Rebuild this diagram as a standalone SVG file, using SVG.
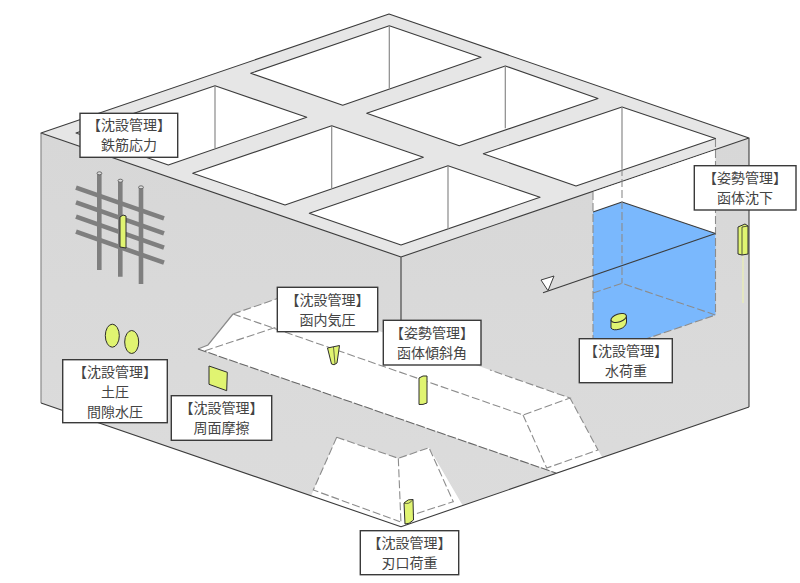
<svg xmlns="http://www.w3.org/2000/svg" width="800" height="583" viewBox="0 0 800 583">
<style>
.edge{fill:none;stroke:#3c3c3c;stroke-width:1.1;stroke-linejoin:round}
.inner{fill:none;stroke:#8a8a8a;stroke-width:1.2}
.open{fill:#fff;stroke:#3c3c3c;stroke-width:1.1;stroke-linejoin:round}
.dash{fill:none;stroke:#8c8c8c;stroke-width:1.1;stroke-dasharray:8 3}
.dashd{fill:none;stroke:#666;stroke-width:1.1;stroke-dasharray:9 2}
.bar{fill:none;stroke:#7f7f7f;stroke-width:4.6}
.s{fill:#e0f471;stroke:#2e2e2e;stroke-width:1;stroke-linejoin:round}
.box{fill:#fff;stroke:#3a3a3a;stroke-width:1.4}
text{font-family:"Noto Sans CJK JP","Noto Sans CJK SC",sans-serif;font-size:14px;fill:#444;text-anchor:middle}
</style>
<defs>
<linearGradient id="lf" x1="0" y1="0" x2="0" y2="1"><stop offset="0" stop-color="#d7d7d7"/><stop offset="1" stop-color="#dcdcdc"/></linearGradient>
</defs>
<rect width="800" height="583" fill="#fff"/>
<g id="body">
<polygon points="41,133 401,257 401,526.7 41,403" fill="url(#lf)"/>
<polygon points="401,257 749,138 749,407 401,526.7" fill="url(#lf)"/>
<polygon points="389,14 749,138 401,257 41,133" fill="#e6e6e6"/>
<polygon class="open" points="389.3,25.7 481,57.3 342.7,105.3 250.7,73.3"/>
<polygon class="open" points="505.3,66 598,98.4 459.3,145.7 366.7,113.3"/>
<polygon class="open" points="622,107 715.5,138.5 576,186 483.3,153.7"/>
<polygon class="open" points="215,85.7 306.7,117.3 168.3,165 76,133"/>
<polygon class="open" points="331.7,125.7 423.3,157.3 285,205 192.7,173.3"/>
<polygon class="open" points="448,165.7 540,197.3 401,245 309.3,213.3"/>
<path class="inner" d="M389.3 25.7V88.7M505.3 66V128.3M622 107V168M215 85.7V148.3M331.7 125.7V189M448 165.7V229M41 133V403"/>
<path class="edge" d="M389 14L749 138L401 257L41 133ZM401 257V322M749 138V407"/>
</g>
<g id="tank">
<polygon points="593,192 715.5,150 715.5,240 622,202 593,212" fill="#fff"/>
<polygon points="593,212 622,202 715.5,233.5 715.5,315 593,357" fill="#7ab8fd"/>
<path class="edge" d="M622 202L593 212M622 202L715.5 233.5"/>
<path class="dash" d="M593 192V340M622 168V283.3M715.5 139V315M593 293L622 283.3L715.5 315L640 341"/>
<path class="edge" d="M543 292.7L715.5 233.5"/>
<polygon points="541,280 554,276 548,290.7" fill="#fff" stroke="#3c3c3c" stroke-width="1"/>
</g>
<g id="cutouts">
<polygon points="198,349 208,345 233,314 282,297 570,398 602,457 557,473" fill="#fff"/>
<polygon points="336.7,437.3 398.3,458.3 429,447.7 463,506 401,526.7 311,496" fill="#fff"/>
<path class="edge" d="M41 403L401 526.7L749 407"/>
<path class="inner" d="M198 349L208 345L233 314"/>
<path class="dash" d="M233 314L282 297M233 314L523 415L570 398L490 370M523 415L546.7 468L598 450L570 398M205 350.7L280 326M336.7 437.3L313.3 490L400 521.7M336.7 437.3L398.3 458.3L429 447.7L453.3 501.7L412 515M398.3 458.3L401 524"/>
<path class="dashd" d="M198 349L556 473"/>
</g>
<g id="rebar">
<path class="bar" d="M76 187.7L164 218.3M76 202.3L164 233.3M76 216.7L164 247.7M76 231.7L164 262.7"/>
<path class="bar" d="M99.3 173.3V270M120.3 180.7V276.7M141 187.3V284"/>
<path d="M97 173.3a2.4 1.5 0 0 1 4.8 0a2.4 1.5 0 0 1-4.8 0M118 180.7a2.4 1.5 0 0 1 4.8 0a2.4 1.5 0 0 1-4.8 0M138.6 187.3a2.4 1.5 0 0 1 4.8 0a2.4 1.5 0 0 1-4.8 0" fill="#ddd" stroke="#555" stroke-width=".8"/>
</g>
<g id="sensors">
<path class="s" d="M120 217L123 215L126 216V248L120 247Z"/>
<path class="s" d="M738 227L745 224L748 226V254L742 255L738 254Z"/>
<path d="M742 227L748 226M742 227V255" fill="none" stroke="#2e2e2e" stroke-width=".8"/>
<path d="M743 256V303" stroke="#eef3a8" stroke-width="1" fill="none"/>
<ellipse class="s" cx="112.3" cy="335.7" rx="7" ry="11.5"/>
<ellipse class="s" cx="131.7" cy="342" rx="7" ry="11.5"/>
<polygon class="s" points="209,366 227.3,372.3 226.7,390.7 209,384.3"/>
<path class="s" d="M327.5 348L339.5 345.5L337 363Q334 366 331.5 364Z"/>
<path d="M333.5 347L335 364" fill="none" stroke="#2e2e2e" stroke-width=".7"/>
<path class="s" d="M419 378Q423 375 427 376V403Q423 405 419 404.5Z"/>
<path class="s" d="M404 503Q408 498.5 413 499.5L413.5 520Q409 524.5 405 524Z"/>
<path d="M404 503Q409 505 413 499.5" fill="none" stroke="#2e2e2e" stroke-width=".7"/>
<path class="s" d="M611 320V328Q613 331 620 329Q626 327 626.5 322V316Z"/>
<ellipse class="s" cx="618.7" cy="318" rx="8" ry="4" transform="rotate(-18 618.7 318)"/>
</g>
<g id="label-rebar"><rect class="box" x="80" y="113.3" width="97.7" height="44"/><text x="129" y="130">【沈設管理】</text><text x="129" y="150">鉄筋応力</text></g>
<g id="label-settlement"><rect class="box" x="694.3" y="165.7" width="101.7" height="44.3"/><text x="745" y="183">【姿勢管理】</text><text x="745" y="203">函体沈下</text></g>
<g id="label-water"><rect class="box" x="579.3" y="338.7" width="93" height="44"/><text x="626" y="356">【沈設管理】</text><text x="626" y="376">水荷重</text></g>
<g id="label-air"><rect class="box" x="277.3" y="287.3" width="100.4" height="44.4"/><text x="327.5" y="305">【沈設管理】</text><text x="327.5" y="325">函内気圧</text></g>
<g id="label-tilt"><rect class="box" x="383.3" y="320.3" width="97.7" height="44.7"/><text x="432" y="338">【姿勢管理】</text><text x="432" y="358">函体傾斜角</text></g>
<g id="label-friction"><rect class="box" x="171.3" y="395.7" width="100.4" height="44.6"/><text x="221.5" y="413">【沈設管理】</text><text x="221.5" y="433">周面摩擦</text></g>
<g id="label-earth"><rect class="box" x="62.7" y="359.7" width="104.6" height="63"/><text x="115" y="377">【沈設管理】</text><text x="115" y="397">土圧</text><text x="115" y="417">間隙水圧</text></g>
<g id="label-edge"><rect class="box" x="360.3" y="530.7" width="98.4" height="44"/><text x="409.5" y="548">【沈設管理】</text><text x="409.5" y="568">刃口荷重</text></g>
</svg>
